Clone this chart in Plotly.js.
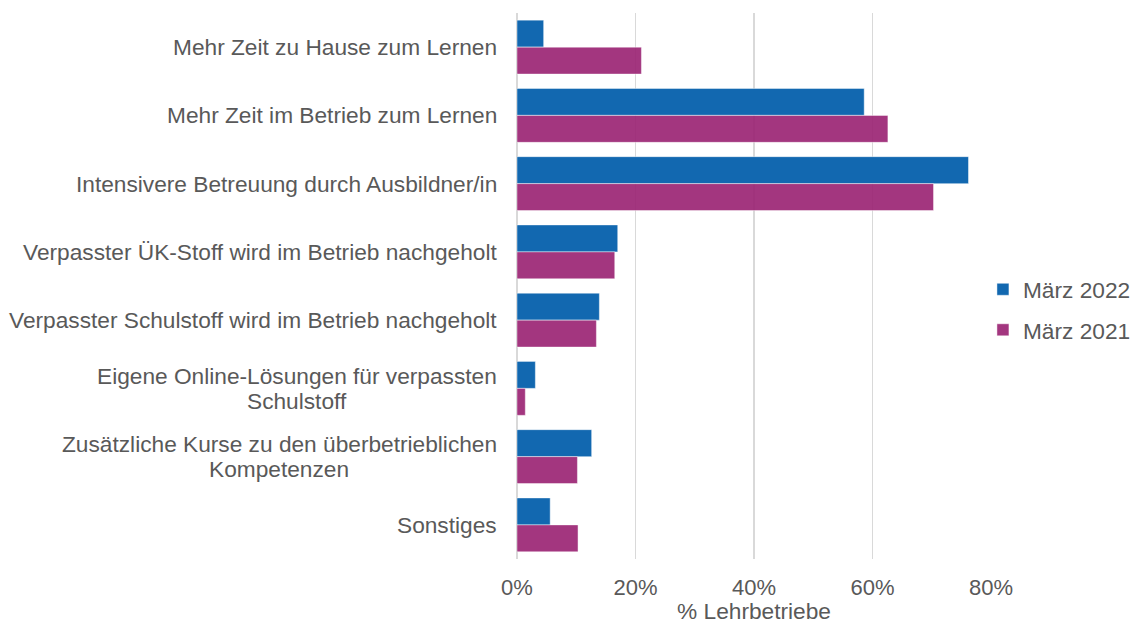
<!DOCTYPE html>
<html>
<head>
<meta charset="utf-8">
<script src="https://cdn.plot.ly/plotly-3.0.1.min.js"></script>
<style>html,body{margin:0;padding:0;background:#fff;}#chart{width:1133px;height:624px;}</style>
</head>
<body>
<div id="chart"></div>
<script>
var categories = [
  "Mehr Zeit zu Hause zum Lernen",
  "Mehr Zeit im Betrieb zum Lernen",
  "Intensivere Betreuung durch Ausbildner/in",
  "Verpasster ÜK-Stoff wird im Betrieb nachgeholt",
  "Verpasster Schulstoff wird im Betrieb nachgeholt",
  "Eigene Online-Lösungen für verpassten<br>Schulstoff",
  "Zusätzliche Kurse zu den überbetrieblichen<br>Kompetenzen",
  "Sonstiges"
];
var series2022 = [0.045, 0.586, 0.762, 0.170, 0.139, 0.031, 0.126, 0.056];
var series2021 = [0.210, 0.626, 0.703, 0.165, 0.134, 0.014, 0.102, 0.103];
var seriesNames = ["März 2022", "März 2021"];
var xTicks = [0, 0.2, 0.4, 0.6, 0.8];
var xTitle = "% Lehrbetriebe";

var textColor = "#595959";
var fontFamily = "Liberation Sans, Arial, sans-serif";
var fs = 22.7;
var tickFs = 22;

var traces = [
  {
    type: "bar", orientation: "h", name: seriesNames[0],
    y: categories, x: series2022, legendgroup: "a",
    marker: {color: "#1268B0", line: {color: "rgba(255,255,255,0.45)", width: 1}},
    hoverinfo: "x+y"
  },
  {
    type: "bar", orientation: "h", name: seriesNames[1],
    y: categories, x: series2021, legendgroup: "b",
    marker: {color: "rgba(153,32,113,0.9)", line: {color: "rgba(255,255,255,0.45)", width: 1}},
    hoverinfo: "x+y"
  }
];

// measure text width for centring wrapped labels
var cv = document.createElement("canvas").getContext("2d");
cv.font = fs + "px 'Liberation Sans'";
function textWidth(s) { return cv.measureText(s).width; }

var lineGap = 25;
var annotations = [];
categories.forEach(function (c) {
  var lines = c.split("<br>");
  var n = lines.length;
  var w0 = textWidth(lines[0]);
  lines.forEach(function (ln, i) {
    var ys = ((n - 1) / 2 - i) * lineGap;
    var a = {
      xref: "paper", yref: "y", x: 0, y: c, text: ln,
      yanchor: "middle", yshift: ys, showarrow: false,
      font: {family: fontFamily, size: fs, color: textColor}
    };
    if (i === 0) { a.xanchor = "right"; a.xshift = -18; }
    else { a.xanchor = "center"; a.xshift = -20 - w0 / 2; }
    annotations.push(a);
  });
});

var layout = {
  width: 1133, height: 624,
  margin: {l: 517, r: 142, t: 13, b: 65, pad: 0, autoexpand: false},
  paper_bgcolor: "#fff", plot_bgcolor: "#fff",
  font: {family: fontFamily, size: fs, color: textColor},
  barmode: "group", bargap: 0.21, bargroupgap: 0,
  showlegend: true,
  legend: {
    x: 0.983, xanchor: "left", y: 0.456, yanchor: "middle",
    traceorder: "grouped", tracegroupgap: 8,
    font: {family: fontFamily, size: fs, color: textColor},
    bgcolor: "rgba(0,0,0,0)"
  },
  xaxis: {
    range: [0, 0.8], tickvals: xTicks, tickformat: ".0%",
    showgrid: true, gridcolor: "#D9D9D9", gridwidth: 1.5,
    zeroline: true, zerolinecolor: "#D9D9D9", zerolinewidth: 1.5,
    showline: false, ticks: "", ticklabelstandoff: 13,
    tickfont: {family: fontFamily, size: tickFs, color: textColor},
    title: {text: xTitle, standoff: 18, font: {family: fontFamily, size: fs, color: textColor}},
    fixedrange: true
  },
  yaxis: {
    type: "category", autorange: "reversed",
    showticklabels: false, showgrid: false, zeroline: false, showline: false, ticks: "",
    fixedrange: true
  },
  annotations: annotations
};

Plotly.newPlot("chart", traces, layout, {displayModeBar: false, staticPlot: true});
</script>
</body>
</html>
